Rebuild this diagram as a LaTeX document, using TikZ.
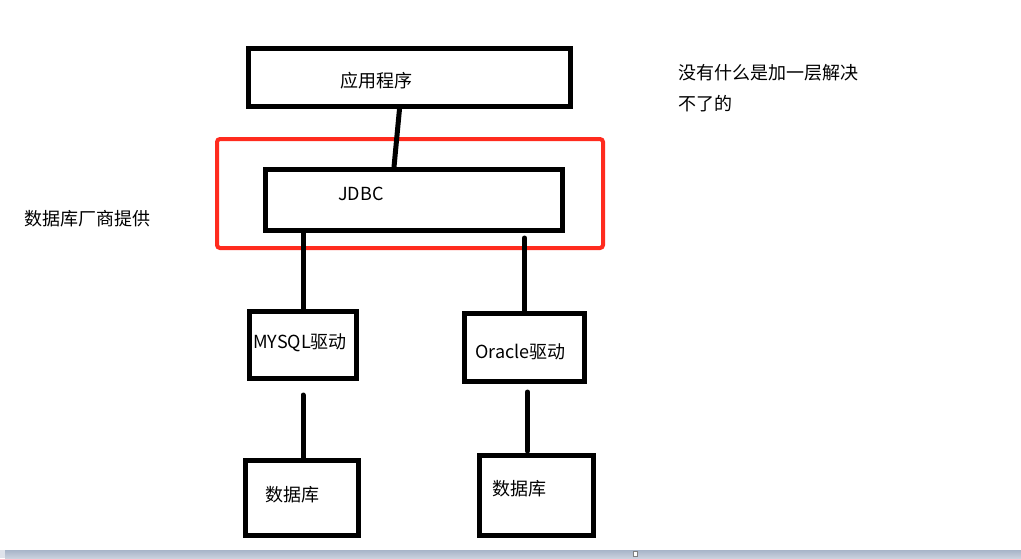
\documentclass[tikz,border=0pt]{standalone}
\usepackage{fontspec}
\setmainfont{Noto Sans CJK SC}
\usetikzlibrary{positioning}
\definecolor{vendorred}{HTML}{FF2B1E}
\definecolor{bartop}{HTML}{A7B4C8}
\definecolor{barbottom}{HTML}{C9D1DE}

\begin{document}
\begin{tikzpicture}[
        x=1pt,y=-1pt,
        font=\fontsize{18}{21}\selectfont,
        box/.style={draw=black,line width=5pt,inner sep=0pt,fill=none},
        vendor/.style={draw=vendorred,line width=4pt,rounded corners=3pt,inner sep=0pt},
        txt/.style={anchor=west,inner sep=0pt},
        link/.style={line width=5pt,line cap=round,draw=black}
      ]
        \useasboundingbox (0,0) rectangle (1021,558);
        \node[vendor,minimum width=386pt,minimum height=109pt] (vendorbox) at (410,193.5) {};
        \node[box,minimum width=322pt,minimum height=58pt] (app) at (409.5,77.5) {};
        \node[box,minimum width=297pt,minimum height=61pt] (jdbc) at (414,200) {};
        \node[box,minimum width=107pt,minimum height=67pt] (mysql) at (303,345) {};
        \node[box,minimum width=120pt,minimum height=68pt] (oracle) at (524.5,347.5) {};
        \node[box,minimum width=113pt,minimum height=75pt] (dbmysql) at (302,498) {};
        \node[box,minimum width=114pt,minimum height=80pt] (dbora) at (536.5,495.5) {};
        \node[txt] (appname) at (340,81) {应用程序};
        \node[txt] (jdbcname) at (338,194) {JDBC};
        \node[txt] (mysqlname) at (253,343) {MYSQL驱动};
        \node[txt] (oraclename) at (475,352) {Oracle驱动};
        \node[txt] (dbmysqlname) at (265,495) {数据库};
        \node[txt] (doraname) at (492,489) {数据库};
        \node[txt] (vendorname) at (24,219) {数据库厂商提供};
        \node[txt,align=left,font=\fontsize{18}{31}\selectfont] (motto) at (678,88) {没有什么是加一层解决\\不了的};
        \draw[link] ([xshift=-10pt]app.south) -- ([xshift=-20pt]jdbc.north);
        \draw[link] (mysql.north |- jdbc.south) -- (mysql.north);
        \draw[link] ([yshift=-5pt]oracle.north |- jdbc.south) -- (oracle.north);
        \draw[link] ([yshift=-14pt]mysql.south) -- (dbmysql.north -| mysql.south);
        \draw[link] ([xshift=3pt,yshift=-8pt]oracle.south) -- ([xshift=3pt,yshift=2pt]dbora.north -| oracle.south);
        \shade[top color=bartop,bottom color=barbottom] (5,550) rectangle (1021,558);
        \fill[barbottom!60!white] (0,550) rectangle (5,558);
        \draw[gray,fill=white,line width=0.8pt] (633,551) rectangle (637,556);
      \end{tikzpicture}
\end{document}
